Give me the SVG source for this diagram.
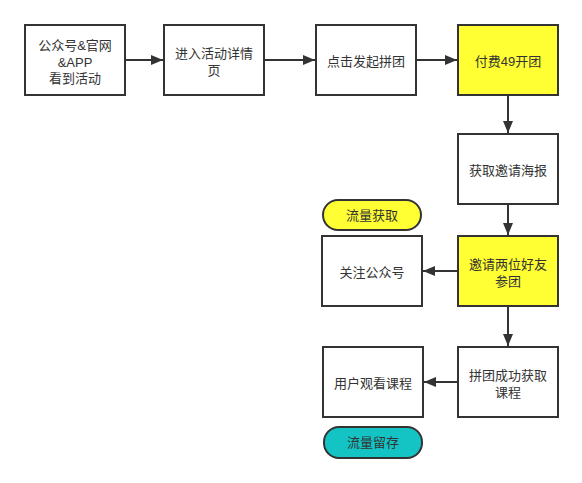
<svg xmlns="http://www.w3.org/2000/svg" width="582" height="483" viewBox="0 0 582 483">
<style>
.box{fill:#ffffff;stroke:#333333;stroke-width:2}
.yel{fill:#ffff33}
.teal{fill:#14c4c4}
.t{font-family:"Liberation Sans","Noto Sans CJK SC",sans-serif;font-size:13px;fill:#333333;text-anchor:middle}
.c{stroke:#333333;stroke-width:2;fill:none;marker-end:url(#ah)}
</style>
<defs>
<marker id="ah" markerWidth="12" markerHeight="10" refX="12" refY="5" orient="auto" markerUnits="userSpaceOnUse">
<path d="M0,0 L12,5 L0,10 Z" fill="#333333"/>
</marker>
</defs>
<rect width="582" height="483" fill="#ffffff"/>
<g id="connectors">
<line class="c" x1="125" y1="60" x2="163" y2="60"/>
<line class="c" x1="264" y1="60" x2="315" y2="60"/>
<line class="c" x1="416" y1="60" x2="457" y2="60"/>
<line class="c" x1="508" y1="95" x2="508" y2="133"/>
<line class="c" x1="508" y1="204" x2="508" y2="235"/>
<line class="c" x1="458" y1="271" x2="423" y2="271"/>
<line class="c" x1="508" y1="306" x2="508" y2="346"/>
<line class="c" x1="458" y1="382" x2="424" y2="382"/>
</g>
<g id="n1"><rect class="box" x="25" y="25" width="100" height="70"/>
<text class="t" x="75" y="50">公众号&amp;官网</text><text class="t" x="75" y="66.5">&amp;APP</text><text class="t" x="75" y="83">看到活动</text></g>
<g id="n2"><rect class="box" x="164" y="25" width="100" height="70"/>
<text class="t" x="214" y="58">进入活动详情</text><text class="t" x="214" y="75">页</text></g>
<g id="n3"><rect class="box" x="316" y="25" width="100" height="70"/>
<text class="t" x="366" y="65.5">点击发起拼团</text></g>
<g id="n4"><rect class="box yel" x="458" y="25" width="100" height="70"/>
<text class="t" x="508" y="65.5">付费49开团</text></g>
<g id="n5"><rect class="box" x="458" y="134" width="100" height="70"/>
<text class="t" x="508" y="174.5">获取邀请海报</text></g>
<g id="n6"><rect class="box yel" x="458" y="236" width="100" height="70"/>
<text class="t" x="508" y="268.5">邀请两位好友</text><text class="t" x="508" y="285.5">参团</text></g>
<g id="n7"><rect class="box" x="322" y="236" width="100" height="70"/>
<text class="t" x="372" y="276.5">关注公众号</text></g>
<g id="n8"><rect class="box yel" x="323" y="200" width="98" height="30" rx="15" ry="15"/>
<text class="t" x="372" y="219.5">流量获取</text></g>
<g id="n9"><rect class="box" x="458" y="347" width="100" height="70"/>
<text class="t" x="508" y="379.5">拼团成功获取</text><text class="t" x="508" y="396.5">课程</text></g>
<g id="n10"><rect class="box" x="323" y="347" width="100" height="70"/>
<text class="t" x="373" y="387.5">用户观看课程</text></g>
<g id="n11"><rect class="box teal" x="324" y="427" width="98" height="31" rx="15" ry="15"/>
<text class="t" x="373" y="447">流量留存</text></g>
</svg>
